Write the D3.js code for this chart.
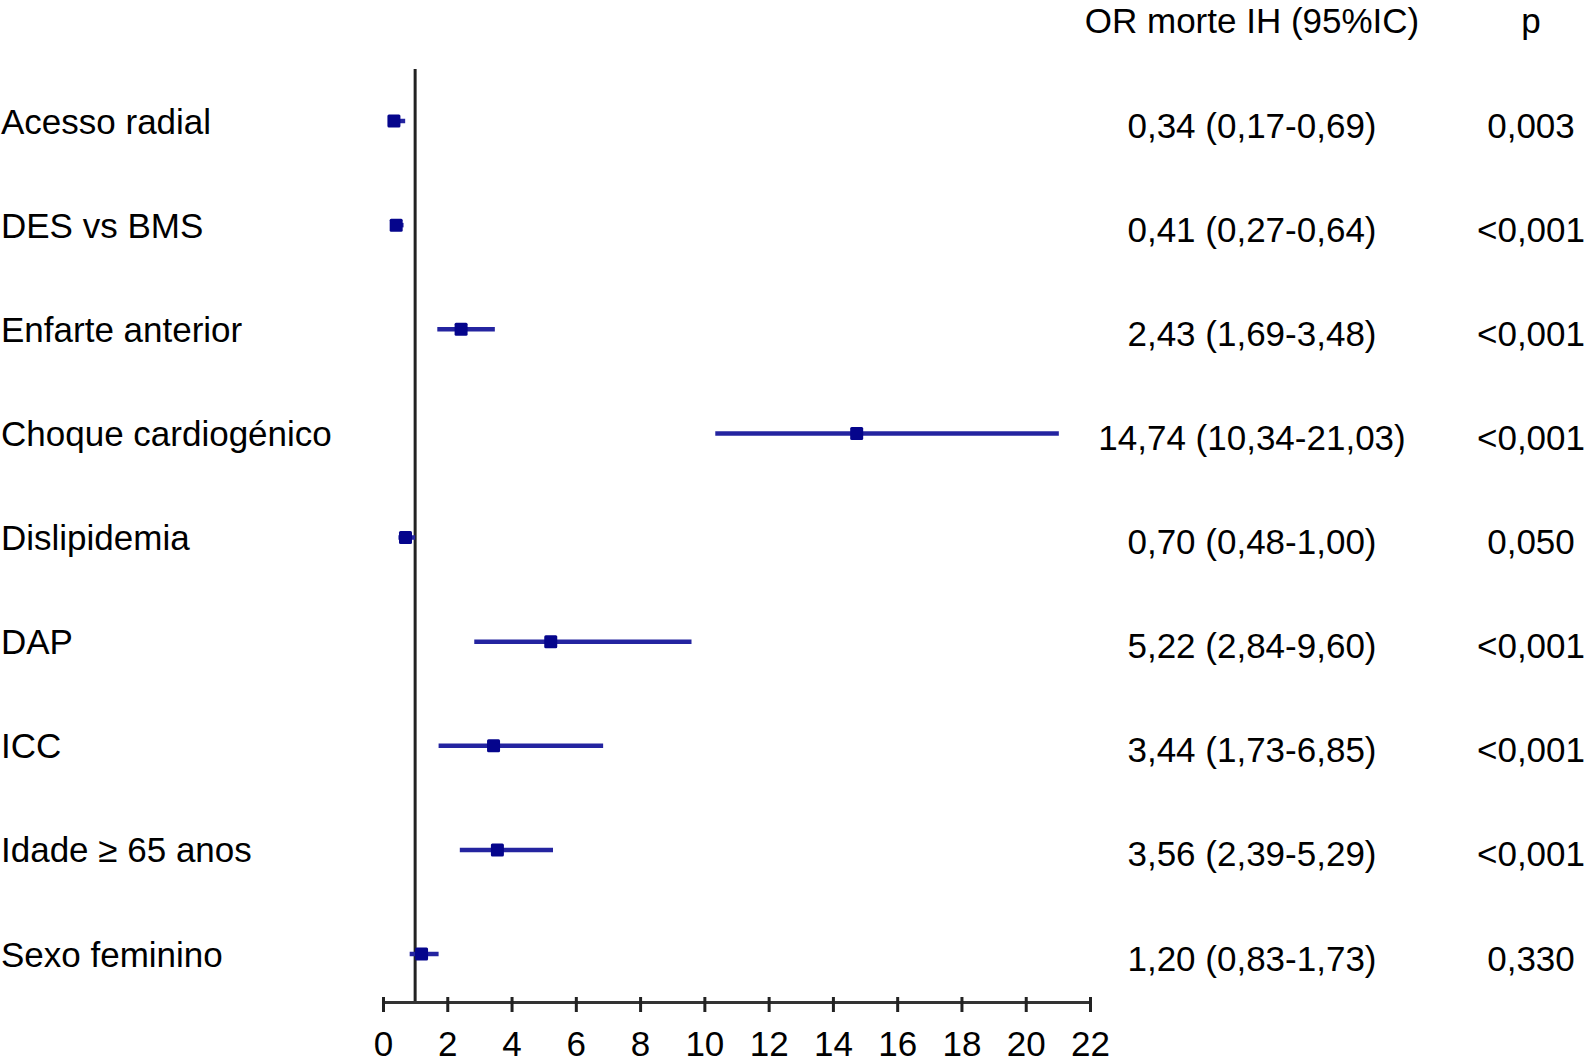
<!DOCTYPE html>
<html>
<head>
<meta charset="utf-8">
<script src="https://cdn.jsdelivr.net/npm/d3@7"></script>
<style>
  html, body { margin: 0; padding: 0; background: #fff; }
  svg { display: block; }
  text { font-family: "Liberation Sans", Arial, Helvetica, sans-serif; fill: #000; }
</style>
</head>
<body>
<svg id="chart" width="1584" height="1063"></svg>
<script>
// ---- data ----
const categories = ["Acesso radial", "DES vs BMS", "Enfarte anterior", "Choque cardiogénico",
  "Dislipidemia", "DAP", "ICC", "Idade \u2265 65 anos", "Sexo feminino"];
const orValues = [0.34, 0.41, 2.43, 14.74, 0.70, 5.22, 3.44, 3.56, 1.20];
const ciLow    = [0.17, 0.27, 1.69, 10.34, 0.48, 2.84, 1.73, 2.39, 0.83];
const ciHigh   = [0.69, 0.64, 3.48, 21.03, 1.00, 9.60, 6.85, 5.29, 1.73];
const orLabels = ["0,34 (0,17-0,69)", "0,41 (0,27-0,64)", "2,43 (1,69-3,48)", "14,74 (10,34-21,03)",
  "0,70 (0,48-1,00)", "5,22 (2,84-9,60)", "3,44 (1,73-6,85)", "3,56 (2,39-5,29)", "1,20 (0,83-1,73)"];
const pLabels  = ["0,003", "<0,001", "<0,001", "<0,001", "0,050", "<0,001", "<0,001", "<0,001", "0,330"];
const xTicks   = [0, 2, 4, 6, 8, 10, 12, 14, 16, 18, 20, 22];
const referenceValue = 1;
const headerOR = "OR morte IH (95%IC)";
const headerP = "p";

// ---- layout ----
const svg = d3.select("#chart");
const fontSize = 35;
const x = d3.scaleLinear().domain([0, 22]).range([383, 1090]);
const y = d3.scalePoint().domain(categories).range([121, 954]);
const axisY = 1002;
const lineColor = "#2424a0";
const markerColor = "#05058c";
const orColX = 1252;
const pColX = 1531;

const rows = categories.map((c, i) => ({
  cat: c, or: orValues[i], lo: ciLow[i], hi: ciHigh[i], orText: orLabels[i], p: pLabels[i]
}));

// reference line
svg.append("line")
  .attr("x1", x(referenceValue)).attr("x2", x(referenceValue))
  .attr("y1", 69).attr("y2", axisY)
  .attr("stroke", "#222").attr("stroke-width", 3);

// axis
const axis = d3.axisBottom(x).tickValues(xTicks).tickFormat(d3.format("d")).tickSizeOuter(0).tickSize(9).tickPadding(0);
const gAxis = svg.append("g").attr("transform", `translate(0,${axisY})`).call(axis);
gAxis.select(".domain").attr("stroke", "#333").attr("stroke-width", 3);
gAxis.selectAll(".tick line").attr("y1", -5).attr("y2", 10).attr("stroke", "#222").attr("stroke-width", 3);
gAxis.selectAll(".tick text")
  .attr("y", 54).attr("dy", null)
  .style("font-size", fontSize + "px")
  .style("font-family", '"Liberation Sans", Arial, sans-serif')
  .attr("fill", "#000");

// CI lines
svg.append("g").selectAll("line").data(rows).join("line")
  .attr("x1", d => x(d.lo)).attr("x2", d => x(d.hi))
  .attr("y1", d => y(d.cat)).attr("y2", d => y(d.cat))
  .attr("stroke", lineColor).attr("stroke-width", 4.5);

// markers
const ms = 13;
svg.append("g").selectAll("rect").data(rows).join("rect")
  .attr("x", d => x(d.or) - ms / 2).attr("y", d => y(d.cat) - ms / 2)
  .attr("width", ms).attr("height", ms)
  .attr("rx", 1.5)
  .attr("fill", markerColor);

// left labels
svg.append("g").selectAll("text").data(rows).join("text")
  .attr("x", 1).attr("y", d => y(d.cat))
  .attr("dominant-baseline", "central")
  .style("font-size", fontSize + "px")
  .text(d => d.cat);

// OR column
svg.append("g").selectAll("text").data(rows).join("text")
  .attr("x", orColX).attr("y", d => y(d.cat) + 4)
  .attr("dominant-baseline", "central")
  .attr("text-anchor", "middle")
  .style("font-size", fontSize + "px")
  .text(d => d.orText);

// p column
svg.append("g").selectAll("text").data(rows).join("text")
  .attr("x", pColX).attr("y", d => y(d.cat) + 4)
  .attr("dominant-baseline", "central")
  .attr("text-anchor", "middle")
  .style("font-size", fontSize + "px")
  .text(d => d.p);

// headers
svg.append("text").attr("x", orColX).attr("y", 33).attr("text-anchor", "middle")
  .style("font-size", fontSize + "px").text(headerOR);
svg.append("text").attr("x", pColX).attr("y", 33).attr("text-anchor", "middle")
  .style("font-size", fontSize + "px").text(headerP);
</script>
</body>
</html>
